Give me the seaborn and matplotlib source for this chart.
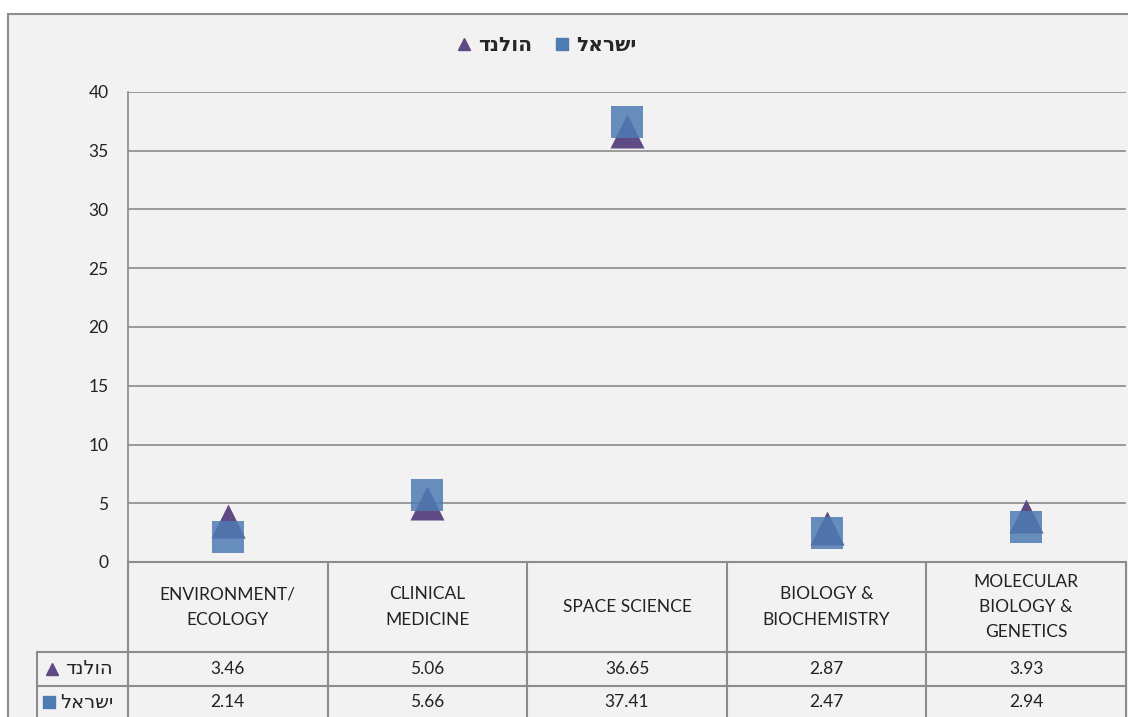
import numpy as np
import pandas as pd
import seaborn as sns
import matplotlib.pyplot as plt
from matplotlib.patches import Rectangle
from matplotlib.lines import Line2D

# data
categories = ["ENVIRONMENT/\nECOLOGY", "CLINICAL\nMEDICINE", "SPACE SCIENCE",
              "BIOLOGY &\nBIOCHEMISTRY", "MOLECULAR\nBIOLOGY &\nGENETICS"]
netherlands = [3.46, 5.06, 36.65, 2.87, 3.93]
israel = [2.14, 5.66, 37.41, 2.47, 2.94]
series_names = ["הולנד", "ישראל"]
y_ticks = [0, 5, 10, 15, 20, 25, 30, 35, 40]


def vis(s):
    # matplotlib has no bidi support, so lay out Hebrew in visual order
    return s[::-1]


sns.set_style("white")
plt.rcParams['font.family'] = ['Lato', 'DejaVu Sans']

W, H = 1128, 717
fig = plt.figure(figsize=(W / 100, H / 100), dpi=100, facecolor="white")

# chart frame
fig.patches.append(Rectangle((8 / W, -0.1), 1.2, (H - 14) / H + 0.1,
                             transform=fig.transFigure, facecolor="#f2f2f2",
                             edgecolor="#8c8c8c", lw=1.5, zorder=-10))

tri_color = "#604a84"
sq_color = "#4f7bb3"

df = pd.DataFrame({"category": categories * 2,
                   "value": netherlands + israel,
                   "country": [series_names[0]] * 5 + [series_names[1]] * 5})

ax = fig.add_axes([128 / W, (H - 562) / H, (1126 - 128) / W, (562 - 92) / H])
ax.set_facecolor("none")
sns.scatterplot(data=df[df.country == series_names[0]], x="category", y="value",
                marker="^", s=600, color=tri_color, linewidth=0, ax=ax, zorder=3)
sns.scatterplot(data=df[df.country == series_names[1]], x="category", y="value",
                marker="s", s=500, color=sq_color, alpha=0.85, linewidth=0, ax=ax, zorder=4)
ax.set_xlim(-0.5, 4.5)
ax.set_ylim(0, 40)
ax.set_yticks(y_ticks)
ax.set_xticks([])
ax.set_xlabel("")
ax.set_ylabel("")
ax.tick_params(axis="y", length=0, pad=14, labelsize=12.5, labelcolor="#222222")
ax.yaxis.grid(True, color="#8a8a8a", lw=1.2)
ax.set_axisbelow(True)
for side in ["top", "right", "bottom"]:
    ax.spines[side].set_visible(False)
ax.spines["left"].set_color("#8a8a8a")
ax.spines["left"].set_linewidth(1.2)

# data table below the plot
px = (1126 - 128) / 5
x_left = -0.5 - (128 - 37) / px
tax = fig.add_axes([37 / W, 0, (1126 - 37) / W, 155 / H])
tax.set_facecolor("none")
tax.set_xlim(x_left, 4.5)
tax.set_ylim(155, 0)
tax.axis("off")
lc, lw = "#8c8c8c", 1.5
tax.plot([-0.5, 4.5], [0, 0], color=lc, lw=lw, clip_on=False)
for i in range(6):
    tax.plot([-0.5 + i, -0.5 + i], [0, 155], color=lc, lw=lw, clip_on=False)
for yy in [90, 124]:
    tax.plot([x_left, 4.5], [yy, yy], color=lc, lw=lw, clip_on=False)
tax.plot([x_left, x_left], [90, 155], color=lc, lw=lw, clip_on=False)

for i, c in enumerate(categories):
    tax.text(i, 45, c, ha="center", va="center", fontsize=12.5,
             color="#222222", linespacing=1.7)
for row_y, vals in [(107, netherlands), (140, israel)]:
    for i, v in enumerate(vals):
        tax.text(i, row_y, f"{v:.2f}", ha="center", va="center",
                 fontsize=12.5, color="#222222")

lab_x = -0.5 - 15 / px
tax.text(lab_x, 107, vis(series_names[0]), ha="right", va="center",
         fontsize=14, color="#222222")
tax.text(lab_x, 140, vis(series_names[1]), ha="right", va="center",
         fontsize=14, color="#222222")
tax.plot([x_left + 15 / px], [107], marker="^", ms=9, color=tri_color,
         lw=0, clip_on=False)
tax.plot([x_left + 12 / px], [140], marker="s", ms=8, color=sq_color,
         lw=0, clip_on=False)

# legend
handles = [Line2D([], [], marker="^", ms=9, color=tri_color, lw=0),
           Line2D([], [], marker="s", ms=8, color=sq_color, lw=0)]
fig.legend(handles, [vis(n) for n in series_names], loc="center",
           bbox_to_anchor=(546 / W, (H - 45) / H), ncol=2, frameon=False,
           prop={"weight": "bold", "size": 14.5}, handlelength=0.8,
           handletextpad=0.3, columnspacing=1.1)

fig.savefig("out.png", dpi=100, facecolor="white")
